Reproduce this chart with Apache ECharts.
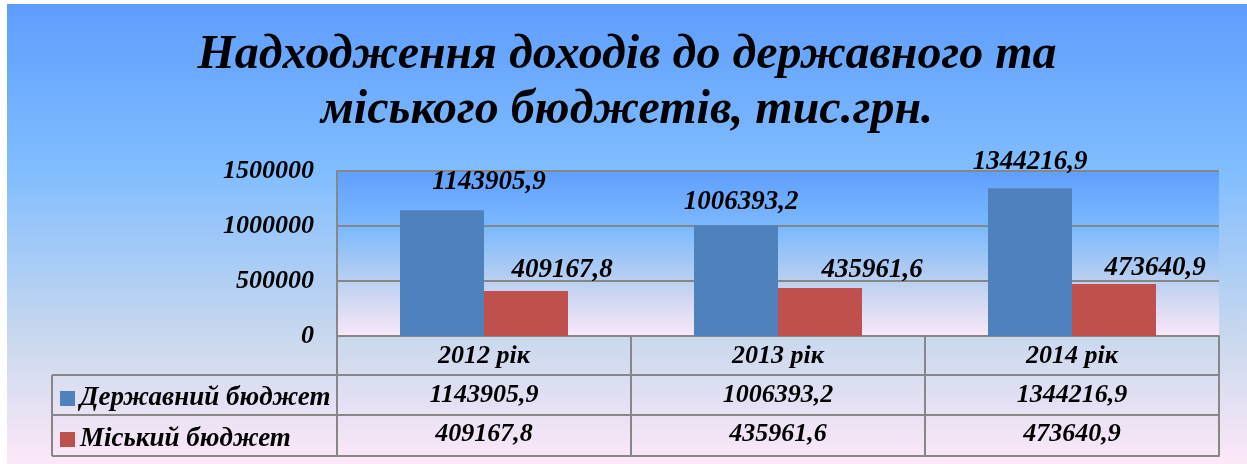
<!DOCTYPE html>
<html>
<head>
<meta charset="utf-8">
<script src="https://cdn.jsdelivr.net/npm/echarts@6/dist/echarts.min.js"></script>
<style>
html,body{margin:0;padding:0;background:#fff;width:1247px;height:464px;overflow:hidden;}
#c{position:absolute;left:7px;top:4px;width:1240px;height:460px;}
</style>
</head>
<body>
<div id="c"></div>
<script>
// ---- data ----
const categories = ['2012 рік', '2013 рік', '2014 рік'];
const seriesNames = ['Державний бюджет', 'Міський бюджет'];
const stateBudget = [1143905.9, 1006393.2, 1344216.9];
const cityBudget = [409167.8, 435961.6, 473640.9];
const yMin = 0, yMax = 1500000, yInterval = 500000;

// ---- label placement (style) ----
const stateLabelOffset = [[47, -15], [5, -10], [0, -13]];
const cityLabelOffset = [[36, -8], [52, -5], [41, -3]];

const FONT = "'Liberation Serif', 'Times New Roman', serif";
const GRAY = '#878787';
const fmt = v => v.toFixed(1).replace('.', ',');
const txt = (size) => ({fontFamily: FONT, fontStyle: 'italic', fontWeight: 'bold', fontSize: size, color: '#000'});

// layout (chart coordinates)
const G = {left: 330, top: 167, right: 28, bottom: 128};
const rowOffsets = [39, 79, 120];
const tableLeft = 45;

const chart = echarts.init(document.getElementById('c'));
const W = 1240, H = 460;
const plotLeft = G.left, plotBottom = H - G.bottom;

function rowAxis(offset, values, margin) {
  return {
    type: 'category', data: categories, position: 'bottom', offset: offset, gridIndex: 0,
    axisLine: {show: true, lineStyle: {color: GRAY, width: 2}},
    axisTick: {show: false},
    splitLine: {show: false},
    axisLabel: values ? Object.assign({
      show: true, interval: 0, margin: margin, verticalAlign: 'middle', lineHeight: 28,
      formatter: (val, idx) => fmt(values[idx])
    }, txt(26)) : {show: false}
  };
}

const option = {
  animation: false,
  backgroundColor: {type: 'linear', x: 0, y: 0, x2: 0, y2: 1, colorStops: [
    {offset: 0, color: '#5e9dfe'},
    {offset: 0.36, color: '#80bdff'},
    {offset: 0.72, color: '#c8d8ee'},
    {offset: 1, color: '#fde8f8'}
  ]},
  title: {
    text: 'Надходження доходів до державного та\nміського бюджетів, тис.грн.',
    left: 'center', top: 19,
    textStyle: Object.assign(txt(48), {lineHeight: 55})
  },
  legend: {
    data: seriesNames, orient: 'vertical', left: 53, top: 381, padding: 0,
    itemWidth: 15, itemHeight: 15, itemGap: 14, icon: 'rect',
    textStyle: txt(27)
  },
  grid: {
    left: G.left, top: G.top, right: G.right, bottom: G.bottom, show: true, borderWidth: 0,
    backgroundColor: {type: 'linear', x: 0, y: 0, x2: 0, y2: 1, colorStops: [
      {offset: 0, color: '#5f9ffe'},
      {offset: 0.35, color: '#7dbaff'},
      {offset: 0.66, color: '#b9cff0'},
      {offset: 1, color: '#fae8f8'}
    ]}
  },
  xAxis: [
    {
      type: 'category', data: categories, position: 'bottom', gridIndex: 0,
      axisLine: {show: true, lineStyle: {color: GRAY, width: 2}},
      axisTick: {show: true, alignWithLabel: false, length: 120, lineStyle: {color: GRAY, width: 2}},
      axisLabel: Object.assign({interval: 0, margin: 20, verticalAlign: 'middle', lineHeight: 28}, txt(26))
    },
    rowAxis(rowOffsets[0], stateBudget, 20),
    rowAxis(rowOffsets[1], cityBudget, 19),
    rowAxis(rowOffsets[2], null, 0)
  ],
  yAxis: {
    type: 'value', min: yMin, max: yMax, interval: yInterval,
    axisLine: {show: true, lineStyle: {color: GRAY, width: 2}},
    axisTick: {show: false},
    splitLine: {show: true, lineStyle: {color: GRAY, width: 2}},
    axisLabel: Object.assign({margin: 23, formatter: v => String(v)}, txt(26))
  },
  series: [
    {
      name: seriesNames[0], type: 'bar', xAxisIndex: 0, barWidth: 84, barGap: '0%',
      itemStyle: {color: '#4f81bd'},
      label: Object.assign({show: true, position: 'top', distance: 0, lineHeight: 26,
        formatter: p => fmt(p.value)}, txt(27)),
      data: stateBudget.map((v, i) => ({value: v, label: {offset: stateLabelOffset[i]}}))
    },
    {
      name: seriesNames[1], type: 'bar', xAxisIndex: 0, barWidth: 84, barGap: '0%',
      itemStyle: {color: '#c0504d'},
      label: Object.assign({show: true, position: 'top', distance: 0, lineHeight: 26,
        formatter: p => fmt(p.value)}, txt(27)),
      data: cityBudget.map((v, i) => ({value: v, label: {offset: cityLabelOffset[i]}}))
    }
  ],
  graphic: [
    // legend column of the data table
    ...rowOffsets.map(o => ({type: 'line', silent: true,
      shape: {x1: tableLeft, y1: plotBottom + o, x2: plotLeft, y2: plotBottom + o},
      style: {stroke: GRAY, lineWidth: 2}})),
    {type: 'line', silent: true,
      shape: {x1: tableLeft, y1: plotBottom + rowOffsets[0], x2: tableLeft, y2: plotBottom + rowOffsets[2]},
      style: {stroke: GRAY, lineWidth: 2}}
  ]
};
chart.setOption(option);
</script>
</body>
</html>
